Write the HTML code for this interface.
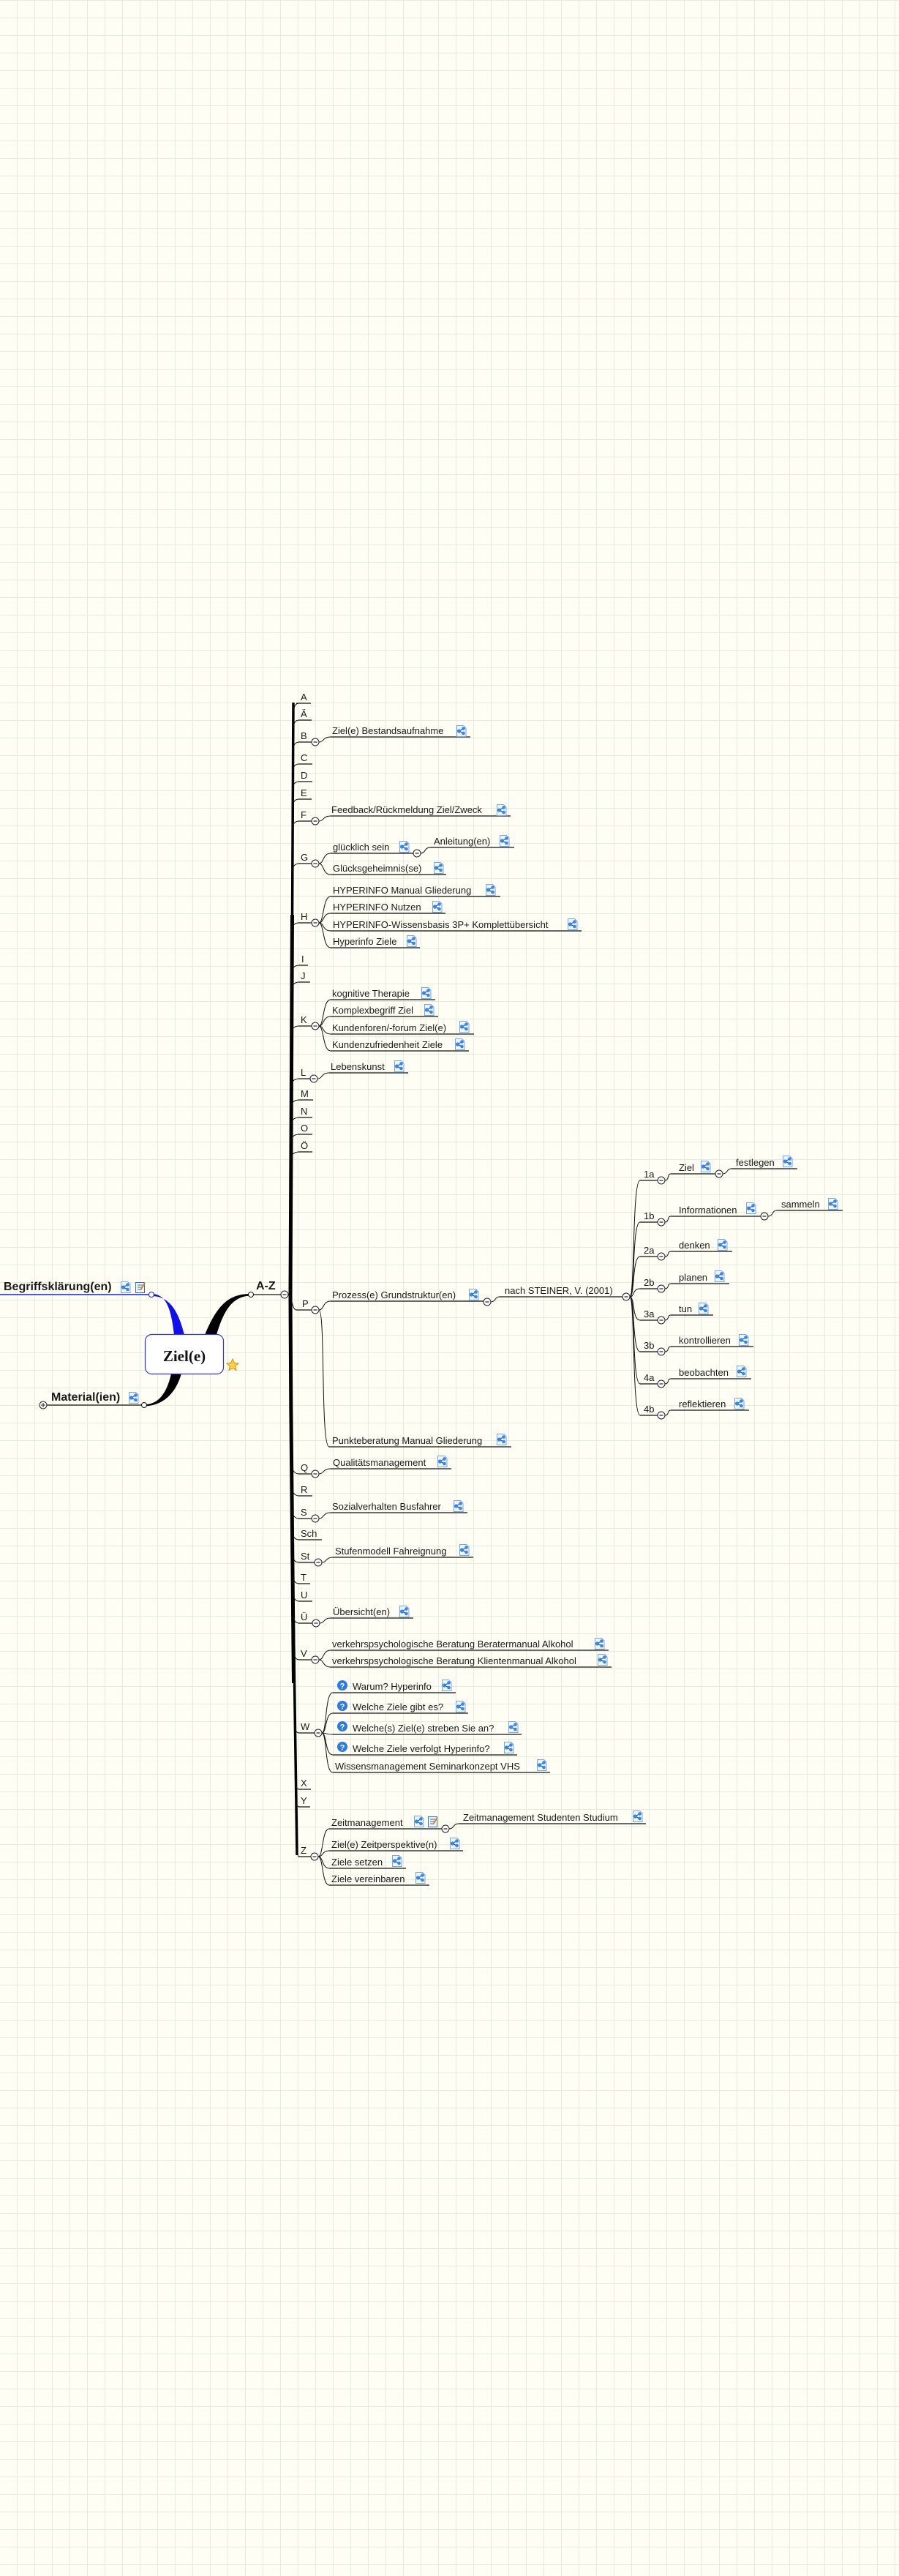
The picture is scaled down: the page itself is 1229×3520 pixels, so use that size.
<!DOCTYPE html>
<html><head><meta charset="utf-8">
<style>
html,body{margin:0;padding:0;background:#fefef4;}
svg{display:block;}
text{font-family:"Liberation Sans",sans-serif;font-size:13px;fill:#1a1a1a;}
.u{stroke:#111;stroke-width:1.2;fill:none;}
.c{stroke:#111;stroke-width:1;fill:none;}
</style></head><body>
<svg width="1229" height="3520" xmlns="http://www.w3.org/2000/svg">
<defs>
<pattern id="g" width="24" height="24" patternUnits="userSpaceOnUse" x="0" y="1">
<rect width="24" height="24" fill="#fefef4"/>
<rect x="23" y="0" width="2" height="24" fill="#e4ebdf"/>
<rect x="0" y="23" width="24" height="2" fill="#e4ebdf"/>
</pattern>
<symbol id="m" viewBox="0 0 14 16"><path d="M1 .5h9l3.5 3.5v11.5h-12.5z" fill="#eef5ff" stroke="#7aa6e0"/><path d="M4 8L10 4.5M4 8L10 11" stroke="#1f5fc0" stroke-width="1.3"/><circle cx="4" cy="8" r="2.6" fill="#3a86e8"/><circle cx="10" cy="4.5" r="2.3" fill="#3a86e8"/><circle cx="10" cy="11" r="2.3" fill="#3a86e8"/></symbol>
<symbol id="n" viewBox="0 0 14 16"><rect x=".5" y="1.5" width="12" height="14" fill="#eef5ff" stroke="#3a6fc0"/><path d="M3 5h7M3 8h7M3 11h5" stroke="#3a6fc0"/><path d="M7 12L13 2" stroke="#e0801a" stroke-width="2"/></symbol>
<symbol id="k" viewBox="0 0 12 12"><circle cx="6" cy="6" r="5" fill="#fff" stroke="#222" stroke-width="1"/><path d="M3.5 6h5" stroke="#222" stroke-width="1.2"/></symbol>
</defs>
<rect width="1229" height="3520" fill="url(#g)"/>

<!-- central -->
<path d="M207 1768 C228 1768 234 1790 238 1824 L252 1824 C244 1792 232 1771 207 1771 Z" fill="#1010ee"/>
<path d="M280 1824 C298 1780 315 1768 343 1768 L343 1770.5 C318 1771 306 1790 296 1824 Z" fill="#000"/>
<path d="M234 1877 C228 1905 215 1920 197 1919 L197 1921.5 C222 1921 240 1905 248 1877 Z" fill="#000"/>
<rect x="198.5" y="1823.5" width="107" height="54" rx="9" fill="#fff" stroke="#3030ee" stroke-width="1.2"/>
<text x="252" y="1860" text-anchor="middle" style="font-family:'Liberation Serif',serif;font-weight:bold;font-size:21px;fill:#111">Ziel(e)</text>
<polygon points="318,1857 320.4,1862.5 326,1863 321.8,1866.8 323,1872.5 318,1869.5 313,1872.5 314.2,1866.8 310,1863 315.6,1862.5" fill="#ffd040" stroke="#e08a10" stroke-width="1"/>

<line x1="0" y1="1769" x2="203" y2="1769" stroke="#1a1aff" stroke-width="1.5"/>
<circle cx="207" cy="1769" r="3.5" fill="#fff" stroke="#1a1aff"/>
<text x="5" y="1763" style="font-weight:bold;font-size:16px">Begriffsklärung(en)</text>
<use href="#m" x="164" y="1751" width="15" height="16"/>
<use href="#n" x="185" y="1751" width="14" height="16"/>

<line x1="64" y1="1920" x2="194" y2="1920" class="u"/>
<circle cx="197" cy="1920" r="3.5" fill="#fff" stroke="#111"/>
<circle cx="59" cy="1920" r="5" fill="#fff" stroke="#222"/><path d="M56 1920h6M59 1917v6" stroke="#222"/>
<text x="70" y="1914" style="font-weight:bold;font-size:16px">Material(ien)</text>
<use href="#m" x="175" y="1902" width="15" height="16"/>

<line x1="346" y1="1769" x2="384" y2="1769" class="u"/>
<circle cx="343" cy="1769" r="3.5" fill="#fff" stroke="#111"/>
<text x="350" y="1762" style="font-weight:bold;font-size:16px">A-Z</text>
<use href="#k" x="383" y="1763" width="12" height="12"/>

<!-- trunk -->
<path d="M401 960 C399 1300 397 1650 397 1769 C398 2000 402 2350 406 2535" stroke="#000" stroke-width="3.5" fill="none"/>
<path d="M399.5 1250 C398 1500 397 1700 397 1769 C397.5 1950 400 2150 401.5 2300" stroke="#000" stroke-width="5" fill="none"/>
<path d="M394 1769 C399 1769 399 1790 405 1790" class="c"/>

<!-- letter connectors -->
<g class="c">
<path d="M401 973 Q402 961 409 961"/><path d="M401 996 Q401 984 409 984"/><path d="M400 1026 Q401 1014 409 1014"/>
<path d="M400 1056 Q400 1044 409 1044"/><path d="M400 1080 Q400 1068 409 1068"/><path d="M400 1104 Q400 1092 409 1092"/>
<path d="M399 1134 Q400 1122 409 1122"/><path d="M399 1192 Q400 1180 409 1180"/><path d="M398 1273 Q399 1261 409 1261"/>
<path d="M398 1331 Q399 1319 409 1319"/><path d="M398 1354 Q399 1342 409 1342"/><path d="M398 1414 Q398 1402 409 1402"/>
<path d="M398 1486 Q398 1474 409 1474"/><path d="M397 1515 Q398 1503 409 1503"/><path d="M397 1539 Q398 1527 409 1527"/>
<path d="M397 1562 Q398 1550 409 1550"/><path d="M397 1586 Q398 1574 409 1574"/>
<path d="M399 2002 Q400 2014 409 2014"/><path d="M399 2032 Q400 2044 409 2044"/><path d="M399 2063 Q400 2075 409 2075"/>
<path d="M400 2092 Q400 2104 409 2104"/><path d="M400 2123 Q400 2135 409 2135"/><path d="M400 2152 Q401 2164 409 2164"/>
<path d="M401 2176 Q401 2188 409 2188"/><path d="M401 2206 Q401 2218 409 2218"/><path d="M402 2256 Q402 2268 409 2268"/>
<path d="M403 2356 Q403 2368 409 2368"/><path d="M404 2433 Q404 2445 409 2445"/><path d="M404 2457 Q405 2469 409 2469"/>
<path d="M406 2525 Q406 2537 409 2537"/>
</g>
<!-- letter underlines & labels -->
<g class="u">
<path d="M405 961H425M408 984H426M408 1014H426M408 1044H427M408 1068H427M408 1092H426M408 1122H426M408 1180H426M408 1261H426M408 1319H421M408 1342H424M408 1402H426M408 1474H424M408 1503H428M408 1527H427M408 1550H427M408 1574H427M405 1790H426M408 2014H426M408 2044H427M408 2075H426M408 2104H440M408 2135H430M408 2164H424M408 2188H427M408 2218H427M408 2268H426M408 2368H430M408 2445H425M408 2469H424M408 2537H425"/>
</g>
<g>
<text x="411" y="957">A</text><text x="411" y="980">Ä</text><text x="411" y="1010">B</text><text x="411" y="1040">C</text>
<text x="411" y="1064">D</text><text x="411" y="1088">E</text><text x="411" y="1118">F</text><text x="411" y="1176">G</text>
<text x="411" y="1257">H</text><text x="412" y="1315">I</text><text x="411" y="1338">J</text><text x="411" y="1398">K</text>
<text x="411" y="1470">L</text><text x="411" y="1499">M</text><text x="411" y="1523">N</text><text x="411" y="1546">O</text>
<text x="411" y="1570">Ö</text><text x="413" y="1786">P</text><text x="411" y="2010">Q</text><text x="411" y="2040">R</text>
<text x="411" y="2071">S</text><text x="411" y="2100">Sch</text><text x="411" y="2131">St</text><text x="411" y="2160">T</text>
<text x="411" y="2184">U</text><text x="411" y="2214">Ü</text><text x="411" y="2264">V</text><text x="411" y="2364">W</text>
<text x="411" y="2441">X</text><text x="411" y="2465">Y</text><text x="411" y="2533">Z</text>
</g>

<!-- child connectors -->
<g class="c">
<path d="M436 1014 C443 1014 441 1007 452 1007"/>
<path d="M436 1122 C443 1122 441 1115 452 1115"/>
<path d="M436 1180 C443 1180 441 1166 452 1166"/><path d="M436 1180 C443 1180 441 1195 452 1195"/>
<path d="M575 1166 C582 1166 580 1158 588 1158"/>
<path d="M436 1261 C443 1261 441 1225 452 1225"/><path d="M436 1261 C443 1261 441 1248 452 1248"/><path d="M436 1261 C443 1261 441 1272 452 1272"/><path d="M436 1261 C443 1261 441 1295 452 1295"/>
<path d="M436 1402 C443 1402 441 1366 452 1366"/><path d="M436 1402 C443 1402 441 1389 452 1389"/><path d="M436 1402 C443 1402 441 1413 452 1413"/><path d="M436 1402 C443 1402 441 1436 452 1436"/>
<path d="M434 1474 C441 1474 439 1466 450 1466"/>
<path d="M436 1790 C443 1790 441 1778 452 1778"/><path d="M436 1790 C445 1790 438 1977 450 1977"/>
<path d="M671 1779 C678 1779 676 1772 683 1772"/>
<path d="M861 1772 C868 1772 864 1613 875 1613"/><path d="M861 1772 C868 1772 864 1670 875 1670"/><path d="M861 1772 C868 1772 864 1717 875 1717"/><path d="M861 1772 C868 1772 864 1761 875 1761"/>
<path d="M861 1772 C868 1772 864 1804 875 1804"/><path d="M861 1772 C868 1772 864 1847 875 1847"/><path d="M861 1772 C868 1772 864 1891 875 1891"/><path d="M861 1772 C868 1772 864 1934 875 1934"/>
<path d="M909 1613 C915 1613 912 1604 917 1604"/><path d="M909 1670 C915 1670 912 1662 917 1662"/><path d="M909 1717 C915 1717 912 1710 917 1710"/><path d="M909 1761 C915 1761 912 1754 917 1754"/>
<path d="M909 1804 C915 1804 912 1797 917 1797"/><path d="M909 1847 C915 1847 912 1840 917 1840"/><path d="M909 1891 C915 1891 912 1884 917 1884"/><path d="M909 1934 C915 1934 912 1927 917 1927"/>
<path d="M988 1604 C995 1604 993 1597 1000 1597"/><path d="M1050 1662 C1057 1662 1055 1654 1062 1654"/>
<path d="M436 2014 C443 2014 441 2007 452 2007"/>
<path d="M436 2075 C443 2075 441 2067 452 2067"/>
<path d="M440 2135 C447 2135 445 2128 455 2128"/>
<path d="M437 2218 C444 2218 442 2211 452 2211"/>
<path d="M436 2268 C443 2268 441 2255 452 2255"/><path d="M436 2268 C443 2268 441 2278 452 2278"/>
<path d="M440 2368 C447 2368 444 2313 455 2313"/><path d="M440 2368 C447 2368 444 2341 455 2341"/><path d="M440 2368 C447 2368 444 2370 455 2370"/><path d="M440 2368 C447 2368 444 2398 455 2398"/><path d="M440 2368 C447 2368 444 2422 455 2422"/>
<path d="M435 2537 C442 2537 440 2499 450 2499"/><path d="M435 2537 C442 2537 440 2529 450 2529"/><path d="M435 2537 C442 2537 440 2553 450 2553"/><path d="M435 2537 C442 2537 440 2576 450 2576"/>
<path d="M614 2499 C621 2499 619 2492 627 2492"/>
</g>

<!-- child underlines -->
<g class="u">
<path d="M452 1007H643M452 1115H698M452 1166H565M588 1158H703M452 1195H610"/>
<path d="M452 1225H684M452 1248H609M452 1272H795M452 1295H574"/>
<path d="M452 1366H595M452 1389H599M452 1413H648M452 1436H641M450 1466H558"/>
<path d="M452 1778H661M683 1772H851M450 1977H699"/>
<path d="M875 1613H899M875 1670H899M875 1717H899M875 1761H899M875 1804H899M875 1847H899M875 1891H899M875 1934H899"/>
<path d="M917 1604H978M1000 1597H1090M917 1662H1040M1062 1654H1152M917 1710H1001M917 1754H997M917 1797H975M917 1840H1030M917 1884H1027M917 1927H1024"/>
<path d="M452 2007H617M452 2067H639M455 2128H647M452 2211H565M452 2255H832M452 2278H836"/>
<path d="M455 2313H623M455 2341H640M455 2370H713M455 2398H707M455 2422H752"/>
<path d="M450 2499H604M627 2492H883M450 2529H633M450 2553H555M450 2576H587"/>
</g>

<!-- collapse circles -->
<g>
<use href="#k" x="425" y="1008" width="12" height="12"/><use href="#k" x="425" y="1116" width="12" height="12"/>
<use href="#k" x="425" y="1174" width="12" height="12"/><use href="#k" x="564" y="1160" width="12" height="12"/>
<use href="#k" x="425" y="1255" width="12" height="12"/><use href="#k" x="425" y="1396" width="12" height="12"/>
<use href="#k" x="423" y="1468" width="12" height="12"/><use href="#k" x="425" y="1784" width="12" height="12"/>
<use href="#k" x="660" y="1773" width="12" height="12"/><use href="#k" x="850" y="1766" width="12" height="12"/>
<use href="#k" x="898" y="1607" width="12" height="12"/><use href="#k" x="898" y="1664" width="12" height="12"/>
<use href="#k" x="898" y="1711" width="12" height="12"/><use href="#k" x="898" y="1755" width="12" height="12"/>
<use href="#k" x="898" y="1798" width="12" height="12"/><use href="#k" x="898" y="1841" width="12" height="12"/>
<use href="#k" x="898" y="1885" width="12" height="12"/><use href="#k" x="898" y="1928" width="12" height="12"/>
<use href="#k" x="977" y="1598" width="12" height="12"/><use href="#k" x="1039" y="1656" width="12" height="12"/>
<use href="#k" x="425" y="2008" width="12" height="12"/><use href="#k" x="425" y="2069" width="12" height="12"/>
<use href="#k" x="429" y="2129" width="12" height="12"/><use href="#k" x="426" y="2212" width="12" height="12"/>
<use href="#k" x="425" y="2262" width="12" height="12"/><use href="#k" x="429" y="2362" width="12" height="12"/>
<use href="#k" x="424" y="2531" width="12" height="12"/><use href="#k" x="603" y="2493" width="12" height="12"/>
</g>

<!-- child texts -->
<g>
<text x="454" y="1003">Ziel(e) Bestandsaufnahme</text>
<text x="453" y="1111">Feedback/Rückmeldung Ziel/Zweck</text>
<text x="455" y="1162">glücklich sein</text>
<text x="593" y="1154">Anleitung(en)</text>
<text x="455" y="1191">Glücksgeheimnis(se)</text>
<text x="455" y="1221">HYPERINFO Manual Gliederung</text>
<text x="455" y="1244">HYPERINFO Nutzen</text>
<text x="455" y="1268">HYPERINFO-Wissensbasis 3P+ Komplettübersicht</text>
<text x="455" y="1291">Hyperinfo Ziele</text>
<text x="454" y="1362">kognitive Therapie</text>
<text x="454" y="1385">Komplexbegriff Ziel</text>
<text x="454" y="1409">Kundenforen/-forum Ziel(e)</text>
<text x="454" y="1432">Kundenzufriedenheit Ziele</text>
<text x="452" y="1462">Lebenskunst</text>
<text x="454" y="1774">Prozess(e) Grundstruktur(en)</text>
<text x="690" y="1768">nach STEINER, V. (2001)</text>
<text x="454" y="1973">Punkteberatung Manual Gliederung</text>
<text x="880" y="1609">1a</text><text x="880" y="1666">1b</text><text x="880" y="1713">2a</text><text x="880" y="1757">2b</text>
<text x="880" y="1800">3a</text><text x="880" y="1843">3b</text><text x="880" y="1887">4a</text><text x="880" y="1930">4b</text>
<text x="928" y="1600">Ziel</text><text x="1006" y="1593">festlegen</text>
<text x="928" y="1658">Informationen</text><text x="1068" y="1650">sammeln</text>
<text x="928" y="1706">denken</text><text x="928" y="1750">planen</text><text x="928" y="1793">tun</text>
<text x="928" y="1836">kontrollieren</text><text x="928" y="1880">beobachten</text><text x="928" y="1923">reflektieren</text>
<text x="455" y="2003">Qualitätsmanagement</text>
<text x="454" y="2063">Sozialverhalten Busfahrer</text>
<text x="458" y="2124">Stufenmodell Fahreignung</text>
<text x="455" y="2207">Übersicht(en)</text>
<text x="454" y="2251">verkehrspsychologische Beratung Beratermanual Alkohol</text>
<text x="454" y="2274">verkehrspsychologische Beratung Klientenmanual Alkohol</text>
<text x="482" y="2309">Warum? Hyperinfo</text>
<text x="482" y="2337">Welche Ziele gibt es?</text>
<text x="482" y="2366">Welche(s) Ziel(e) streben Sie an?</text>
<text x="482" y="2394">Welche Ziele verfolgt Hyperinfo?</text>
<text x="458" y="2418">Wissensmanagement Seminarkonzept VHS</text>
<text x="453" y="2495">Zeitmanagement</text>
<text x="633" y="2488">Zeitmanagement Studenten Studium</text>
<text x="453" y="2525">Ziel(e) Zeitperspektive(n)</text>
<text x="453" y="2549">Ziele setzen</text>
<text x="453" y="2572">Ziele vereinbaren</text>
</g>

<!-- question icons -->
<g>
<circle cx="468" cy="2303" r="7" fill="#2d7be0"/><text x="468" y="2307.5" text-anchor="middle" style="fill:#fff;font-weight:bold;font-size:11px">?</text>
<circle cx="468" cy="2331" r="7" fill="#2d7be0"/><text x="468" y="2335.5" text-anchor="middle" style="fill:#fff;font-weight:bold;font-size:11px">?</text>
<circle cx="468" cy="2359" r="7" fill="#2d7be0"/><text x="468" y="2363.5" text-anchor="middle" style="fill:#fff;font-weight:bold;font-size:11px">?</text>
<circle cx="468" cy="2387" r="7" fill="#2d7be0"/><text x="468" y="2391.5" text-anchor="middle" style="fill:#fff;font-weight:bold;font-size:11px">?</text>
</g>

<!-- map icons -->
<g>
<use href="#m" x="623" y="991" width="15" height="16"/>
<use href="#m" x="678" y="1099" width="15" height="16"/>
<use href="#m" x="545" y="1149" width="15" height="16"/>
<use href="#m" x="682" y="1141" width="15" height="16"/>
<use href="#m" x="592" y="1178" width="15" height="16"/>
<use href="#m" x="663" y="1208" width="15" height="16"/>
<use href="#m" x="590" y="1231" width="15" height="16"/>
<use href="#m" x="775" y="1255" width="15" height="16"/>
<use href="#m" x="555" y="1278" width="15" height="16"/>
<use href="#m" x="575" y="1349" width="15" height="16"/>
<use href="#m" x="579" y="1372" width="15" height="16"/>
<use href="#m" x="627" y="1395" width="15" height="16"/>
<use href="#m" x="621" y="1419" width="15" height="16"/>
<use href="#m" x="538" y="1449" width="15" height="16"/>
<use href="#m" x="640" y="1761" width="15" height="16"/>
<use href="#m" x="678" y="1959" width="15" height="16"/>
<use href="#m" x="957" y="1586" width="15" height="16"/>
<use href="#m" x="1069" y="1579" width="15" height="16"/>
<use href="#m" x="1019" y="1643" width="15" height="16"/>
<use href="#m" x="1131" y="1637" width="15" height="16"/>
<use href="#m" x="980" y="1693" width="15" height="16"/>
<use href="#m" x="976" y="1736" width="15" height="16"/>
<use href="#m" x="954" y="1780" width="15" height="16"/>
<use href="#m" x="1009" y="1823" width="15" height="16"/>
<use href="#m" x="1006" y="1866" width="15" height="16"/>
<use href="#m" x="1003" y="1910" width="15" height="16"/>
<use href="#m" x="597" y="1989" width="15" height="16"/>
<use href="#m" x="619" y="2050" width="15" height="16"/>
<use href="#m" x="627" y="2110" width="15" height="16"/>
<use href="#m" x="545" y="2194" width="15" height="16"/>
<use href="#m" x="812" y="2238" width="15" height="16"/>
<use href="#m" x="816" y="2260" width="15" height="16"/>
<use href="#m" x="603" y="2295" width="15" height="16"/>
<use href="#m" x="622" y="2324" width="15" height="16"/>
<use href="#m" x="694" y="2352" width="15" height="16"/>
<use href="#m" x="688" y="2380" width="15" height="16"/>
<use href="#m" x="733" y="2404" width="15" height="16"/>
<use href="#m" x="565" y="2481" width="15" height="16"/>
<use href="#n" x="585" y="2481" width="14" height="16"/>
<use href="#m" x="864" y="2474" width="15" height="16"/>
<use href="#m" x="614" y="2511" width="15" height="16"/>
<use href="#m" x="535" y="2535" width="15" height="16"/>
<use href="#m" x="567" y="2558" width="15" height="16"/>
</g>
</svg>
</body></html>
